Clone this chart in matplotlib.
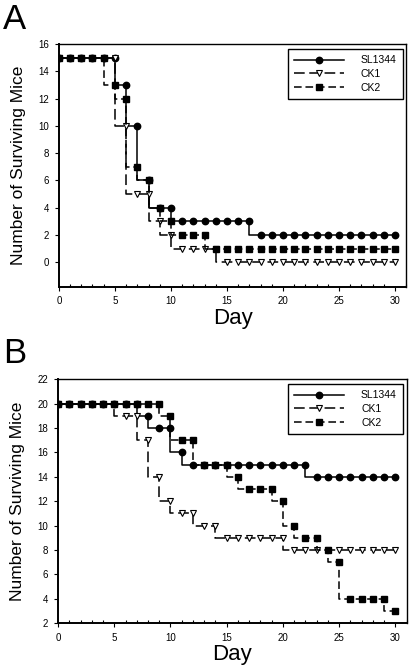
import matplotlib
matplotlib.use("Agg")
import matplotlib.pyplot as plt
from matplotlib.ticker import MultipleLocator

days = list(range(0, 31))

# panel A
a_sl1344 = [15]*6 + [13, 10, 6, 4, 4] + [3]*7 + [2]*13
a_ck1 = [15]*6 + [10, 5, 5, 3, 2] + [1]*4 + [0]*16
a_ck2 = [15]*5 + [13, 12, 7, 6, 4, 3] + [2]*3 + [1]*17

# panel B
b_sl1344 = [20]*8 + [19, 18, 18, 16] + [15]*11 + [14]*8
b_ck1 = [20]*6 + [19, 19, 17, 14, 12, 11, 11, 10, 10] + [9]*6 + [8]*10
b_ck2 = [20]*10 + [19, 17, 17, 15, 15, 15, 14, 13, 13, 13, 12, 10, 9, 9, 8, 7, 4, 4, 4, 4, 3]

labels = ["SL1344", "CK1", "CK2"]
xticks = [0, 5, 10, 15, 20, 25, 30]

plt.rcParams["font.family"] = ["Liberation Sans", "DejaVu Sans"]

fig = plt.figure(figsize=(4.09, 6.70), dpi=100)
axA = fig.add_axes([0.144, 0.572, 0.849, 0.362])
axB = fig.add_axes([0.142, 0.070, 0.852, 0.364])


def draw(ax, s1, s2, s3, ylim, ystep):
    ax.plot(days, s1, drawstyle="steps-pre", color="black", lw=1.1,
            marker="o", ms=4.6, mfc="black", mec="black", label=labels[0])
    ax.plot(days, s2, drawstyle="steps-pre", color="black", lw=1.1,
            dashes=(7, 3), marker="v", ms=4.6, mfc="white", mec="black",
            mew=0.8, label=labels[1])
    ax.plot(days, s3, drawstyle="steps-pre", color="black", lw=1.1,
            dashes=(5, 2.5), marker="s", ms=4.2, mfc="black", mec="black",
            label=labels[2])
    ax.set_xlim(0, 31)
    ax.set_ylim(*ylim)
    ax.set_xticks(xticks)
    ax.xaxis.set_minor_locator(MultipleLocator(1))
    ax.yaxis.set_major_locator(MultipleLocator(ystep))
    ax.tick_params(which="major", direction="out", length=3, width=0.8,
                   labelsize=7, pad=4)
    ax.tick_params(axis="x", which="minor", direction="in", length=2.5,
                   width=0.8)
    for side in ["left", "bottom"]:
        ax.spines[side].set_linewidth(1.4)
    for side in ["top", "right"]:
        ax.spines[side].set_linewidth(1.0)
    ax.set_xlabel("Day", fontsize=16, labelpad=1)
    ax.set_ylabel("Number of Surviving Mice", fontsize=12.5, labelpad=9)
    leg = ax.legend(loc="upper right", bbox_to_anchor=(0.99, 0.98),
                    borderaxespad=0, fontsize=7.5, handlelength=4.8,
                    handletextpad=1.6, labelspacing=0.35, fancybox=False,
                    framealpha=1, edgecolor="black", borderpad=0.6)
    leg.get_frame().set_linewidth(1.0)


draw(axA, a_sl1344, a_ck1, a_ck2, (-1.8, 16), 2)
draw(axB, b_sl1344, b_ck1, b_ck2, (2, 22), 2)
axA.set_yticks(range(0, 17, 2))

fig.text(0.008, 0.995, "A", fontsize=25, va="top", ha="left")
fig.text(0.008, 0.497, "B", fontsize=25, va="top", ha="left")

fig.savefig("out.png", dpi=100)
